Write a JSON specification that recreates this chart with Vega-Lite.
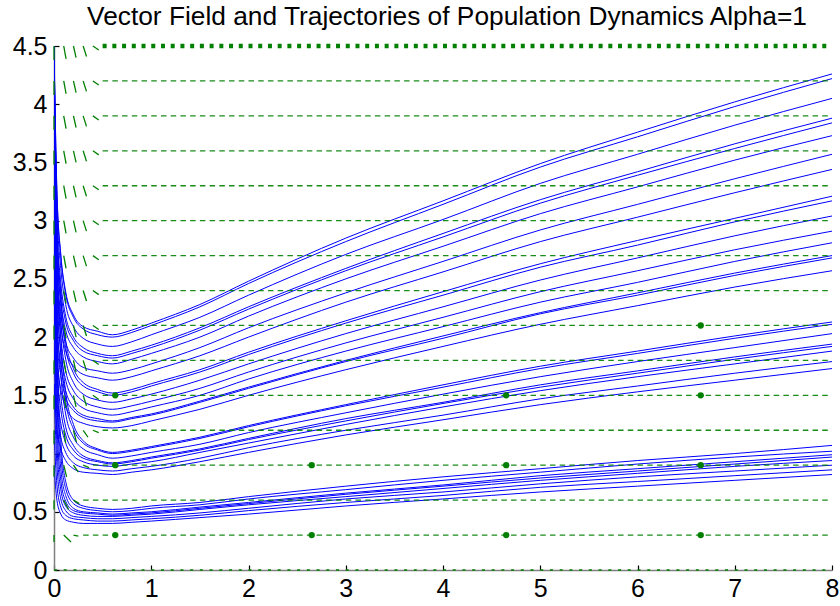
{
  "$schema": "https://vega.github.io/schema/vega-lite/v6.json",
  "width": 778,
  "height": 524,
  "autosize": "none",
  "padding": {"left": 54, "top": 46, "right": 8, "bottom": 36},
  "background": "white",
  "config": {"view": {"stroke": null}},
  "title": {"text": "Vector Field and Trajectories of Population Dynamics Alpha=1", "font": "Liberation Sans", "fontSize": 26.3, "fontWeight": "normal", "color": "black", "anchor": "middle", "baseline": "alphabetic", "offset": -17, "dx": 4},
  "datasets": {
    "traj": [
      {"k":"A1","x":0,"y":4.5},{"k":"A1","x":0.03,"y":3.26},{"k":"A1","x":0.07,"y":2.71},{"k":"A1","x":0.12,"y":2.39},{"k":"A1","x":0.2,"y":2.19},{"k":"A1","x":0.3,"y":2.09},{"k":"A1","x":0.45,"y":2.05},{"k":"A1","x":0.6,"y":2.02},{"k":"A1","x":0.8,"y":2.06},{"k":"A1","x":1,"y":2.12},{"k":"A1","x":1.5,"y":2.28},{"k":"A1","x":2,"y":2.48},{"k":"A1","x":3,"y":2.85},{"k":"A1","x":4,"y":3.17},{"k":"A1","x":5,"y":3.49},{"k":"A1","x":6,"y":3.76},{"k":"A1","x":7,"y":4.02},{"k":"A1","x":8,"y":4.26},
      {"k":"A2","x":0,"y":4.45},{"k":"A2","x":0.03,"y":3.23},{"k":"A2","x":0.07,"y":2.69},{"k":"A2","x":0.12,"y":2.37},{"k":"A2","x":0.2,"y":2.17},{"k":"A2","x":0.3,"y":2.07},{"k":"A2","x":0.45,"y":2.02},{"k":"A2","x":0.6,"y":2.0},{"k":"A2","x":0.8,"y":2.04},{"k":"A2","x":1,"y":2.1},{"k":"A2","x":1.5,"y":2.26},{"k":"A2","x":2,"y":2.46},{"k":"A2","x":3,"y":2.82},{"k":"A2","x":4,"y":3.14},{"k":"A2","x":5,"y":3.46},{"k":"A2","x":6,"y":3.72},{"k":"A2","x":7,"y":3.98},{"k":"A2","x":8,"y":4.22},
      {"k":"A3","x":0,"y":4.3},{"k":"A3","x":0.03,"y":3.11},{"k":"A3","x":0.07,"y":2.59},{"k":"A3","x":0.12,"y":2.28},{"k":"A3","x":0.2,"y":2.09},{"k":"A3","x":0.3,"y":1.99},{"k":"A3","x":0.45,"y":1.94},{"k":"A3","x":0.6,"y":1.92},{"k":"A3","x":0.8,"y":1.96},{"k":"A3","x":1,"y":2.02},{"k":"A3","x":1.5,"y":2.17},{"k":"A3","x":2,"y":2.36},{"k":"A3","x":3,"y":2.71},{"k":"A3","x":4,"y":3.01},{"k":"A3","x":5,"y":3.32},{"k":"A3","x":6,"y":3.57},{"k":"A3","x":7,"y":3.82},{"k":"A3","x":8,"y":4.05},
      {"k":"A4","x":0,"y":4.1},{"k":"A4","x":0.03,"y":2.97},{"k":"A4","x":0.07,"y":2.47},{"k":"A4","x":0.12,"y":2.18},{"k":"A4","x":0.2,"y":2.0},{"k":"A4","x":0.3,"y":1.91},{"k":"A4","x":0.45,"y":1.86},{"k":"A4","x":0.6,"y":1.84},{"k":"A4","x":0.8,"y":1.88},{"k":"A4","x":1,"y":1.93},{"k":"A4","x":1.5,"y":2.08},{"k":"A4","x":2,"y":2.26},{"k":"A4","x":3,"y":2.59},{"k":"A4","x":4,"y":2.89},{"k":"A4","x":5,"y":3.18},{"k":"A4","x":6,"y":3.42},{"k":"A4","x":7,"y":3.66},{"k":"A4","x":8,"y":3.88},
      {"k":"A5","x":0,"y":3.9},{"k":"A5","x":0.03,"y":2.86},{"k":"A5","x":0.07,"y":2.4},{"k":"A5","x":0.12,"y":2.13},{"k":"A5","x":0.2,"y":1.97},{"k":"A5","x":0.3,"y":1.88},{"k":"A5","x":0.45,"y":1.84},{"k":"A5","x":0.6,"y":1.82},{"k":"A5","x":0.8,"y":1.86},{"k":"A5","x":1,"y":1.91},{"k":"A5","x":1.5,"y":2.06},{"k":"A5","x":2,"y":2.24},{"k":"A5","x":3,"y":2.57},{"k":"A5","x":4,"y":2.86},{"k":"A5","x":5,"y":3.15},{"k":"A5","x":6,"y":3.39},{"k":"A5","x":7,"y":3.62},{"k":"A5","x":8,"y":3.84},
      {"k":"A6","x":0,"y":3.7},{"k":"A6","x":0.03,"y":2.74},{"k":"A6","x":0.07,"y":2.31},{"k":"A6","x":0.12,"y":2.06},{"k":"A6","x":0.2,"y":1.91},{"k":"A6","x":0.3,"y":1.83},{"k":"A6","x":0.45,"y":1.79},{"k":"A6","x":0.6,"y":1.77},{"k":"A6","x":0.8,"y":1.81},{"k":"A6","x":1,"y":1.86},{"k":"A6","x":1.5,"y":2.0},{"k":"A6","x":2,"y":2.18},{"k":"A6","x":3,"y":2.5},{"k":"A6","x":4,"y":2.78},{"k":"A6","x":5,"y":3.06},{"k":"A6","x":6,"y":3.29},{"k":"A6","x":7,"y":3.52},{"k":"A6","x":8,"y":3.73},
      {"k":"A7","x":0,"y":3.5},{"k":"A7","x":0.03,"y":2.6},{"k":"A7","x":0.07,"y":2.2},{"k":"A7","x":0.12,"y":1.96},{"k":"A7","x":0.2,"y":1.82},{"k":"A7","x":0.3,"y":1.74},{"k":"A7","x":0.45,"y":1.71},{"k":"A7","x":0.6,"y":1.69},{"k":"A7","x":0.8,"y":1.72},{"k":"A7","x":1,"y":1.77},{"k":"A7","x":1.5,"y":1.91},{"k":"A7","x":2,"y":2.08},{"k":"A7","x":3,"y":2.38},{"k":"A7","x":4,"y":2.65},{"k":"A7","x":5,"y":2.92},{"k":"A7","x":6,"y":3.14},{"k":"A7","x":7,"y":3.36},{"k":"A7","x":8,"y":3.57},
      {"k":"A8","x":0,"y":3.3},{"k":"A8","x":0.03,"y":2.47},{"k":"A8","x":0.07,"y":2.1},{"k":"A8","x":0.12,"y":1.88},{"k":"A8","x":0.2,"y":1.75},{"k":"A8","x":0.3,"y":1.68},{"k":"A8","x":0.45,"y":1.65},{"k":"A8","x":0.6,"y":1.63},{"k":"A8","x":0.8,"y":1.66},{"k":"A8","x":1,"y":1.71},{"k":"A8","x":1.5,"y":1.84},{"k":"A8","x":2,"y":2.0},{"k":"A8","x":3,"y":2.3},{"k":"A8","x":4,"y":2.56},{"k":"A8","x":5,"y":2.82},{"k":"A8","x":6,"y":3.03},{"k":"A8","x":7,"y":3.24},{"k":"A8","x":8,"y":3.44},
      {"k":"B1","x":0,"y":4.5},{"k":"B1","x":0.03,"y":3.01},{"k":"B1","x":0.07,"y":2.35},{"k":"B1","x":0.12,"y":1.97},{"k":"B1","x":0.2,"y":1.73},{"k":"B1","x":0.3,"y":1.61},{"k":"B1","x":0.45,"y":1.55},{"k":"B1","x":0.6,"y":1.52},{"k":"B1","x":0.8,"y":1.55},{"k":"B1","x":1,"y":1.6},{"k":"B1","x":1.5,"y":1.72},{"k":"B1","x":2,"y":1.87},{"k":"B1","x":3,"y":2.14},{"k":"B1","x":4,"y":2.39},{"k":"B1","x":5,"y":2.63},{"k":"B1","x":6,"y":2.83},{"k":"B1","x":7,"y":3.02},{"k":"B1","x":8,"y":3.21},
      {"k":"B2","x":0,"y":4.2},{"k":"B2","x":0.03,"y":2.85},{"k":"B2","x":0.07,"y":2.26},{"k":"B2","x":0.12,"y":1.91},{"k":"B2","x":0.2,"y":1.69},{"k":"B2","x":0.3,"y":1.58},{"k":"B2","x":0.45,"y":1.53},{"k":"B2","x":0.6,"y":1.5},{"k":"B2","x":0.8,"y":1.53},{"k":"B2","x":1,"y":1.58},{"k":"B2","x":1.5,"y":1.7},{"k":"B2","x":2,"y":1.85},{"k":"B2","x":3,"y":2.12},{"k":"B2","x":4,"y":2.36},{"k":"B2","x":5,"y":2.6},{"k":"B2","x":6,"y":2.79},{"k":"B2","x":7,"y":2.99},{"k":"B2","x":8,"y":3.17},
      {"k":"B3","x":0,"y":3.9},{"k":"B3","x":0.03,"y":2.67},{"k":"B3","x":0.07,"y":2.13},{"k":"B3","x":0.12,"y":1.81},{"k":"B3","x":0.2,"y":1.61},{"k":"B3","x":0.3,"y":1.51},{"k":"B3","x":0.45,"y":1.46},{"k":"B3","x":0.6,"y":1.44},{"k":"B3","x":0.8,"y":1.47},{"k":"B3","x":1,"y":1.51},{"k":"B3","x":1.5,"y":1.63},{"k":"B3","x":2,"y":1.77},{"k":"B3","x":3,"y":2.03},{"k":"B3","x":4,"y":2.26},{"k":"B3","x":5,"y":2.49},{"k":"B3","x":6,"y":2.68},{"k":"B3","x":7,"y":2.87},{"k":"B3","x":8,"y":3.04},
      {"k":"B4","x":0,"y":3.6},{"k":"B4","x":0.03,"y":2.49},{"k":"B4","x":0.07,"y":2.0},{"k":"B4","x":0.12,"y":1.71},{"k":"B4","x":0.2,"y":1.54},{"k":"B4","x":0.3,"y":1.45},{"k":"B4","x":0.45,"y":1.4},{"k":"B4","x":0.6,"y":1.38},{"k":"B4","x":0.8,"y":1.41},{"k":"B4","x":1,"y":1.45},{"k":"B4","x":1.5,"y":1.56},{"k":"B4","x":2,"y":1.7},{"k":"B4","x":3,"y":1.95},{"k":"B4","x":4,"y":2.17},{"k":"B4","x":5,"y":2.39},{"k":"B4","x":6,"y":2.57},{"k":"B4","x":7,"y":2.75},{"k":"B4","x":8,"y":2.91},
      {"k":"B5","x":0,"y":3.3},{"k":"B5","x":0.03,"y":2.32},{"k":"B5","x":0.07,"y":1.88},{"k":"B5","x":0.12,"y":1.63},{"k":"B5","x":0.2,"y":1.47},{"k":"B5","x":0.3,"y":1.39},{"k":"B5","x":0.45,"y":1.35},{"k":"B5","x":0.6,"y":1.33},{"k":"B5","x":0.8,"y":1.36},{"k":"B5","x":1,"y":1.4},{"k":"B5","x":1.5,"y":1.5},{"k":"B5","x":2,"y":1.64},{"k":"B5","x":3,"y":1.88},{"k":"B5","x":4,"y":2.09},{"k":"B5","x":5,"y":2.3},{"k":"B5","x":6,"y":2.47},{"k":"B5","x":7,"y":2.65},{"k":"B5","x":8,"y":2.81},
      {"k":"B6","x":0,"y":3.0},{"k":"B6","x":0.03,"y":2.14},{"k":"B6","x":0.07,"y":1.76},{"k":"B6","x":0.12,"y":1.54},{"k":"B6","x":0.2,"y":1.4},{"k":"B6","x":0.3,"y":1.33},{"k":"B6","x":0.45,"y":1.3},{"k":"B6","x":0.6,"y":1.28},{"k":"B6","x":0.8,"y":1.31},{"k":"B6","x":1,"y":1.34},{"k":"B6","x":1.5,"y":1.45},{"k":"B6","x":2,"y":1.57},{"k":"B6","x":3,"y":1.8},{"k":"B6","x":4,"y":2.01},{"k":"B6","x":5,"y":2.21},{"k":"B6","x":6,"y":2.38},{"k":"B6","x":7,"y":2.55},{"k":"B6","x":8,"y":2.7},
      {"k":"B7","x":0,"y":2.7},{"k":"B7","x":0.03,"y":1.99},{"k":"B7","x":0.07,"y":1.67},{"k":"B7","x":0.12,"y":1.48},{"k":"B7","x":0.2,"y":1.37},{"k":"B7","x":0.3,"y":1.31},{"k":"B7","x":0.45,"y":1.28},{"k":"B7","x":0.6,"y":1.27},{"k":"B7","x":0.8,"y":1.3},{"k":"B7","x":1,"y":1.33},{"k":"B7","x":1.5,"y":1.44},{"k":"B7","x":2,"y":1.56},{"k":"B7","x":3,"y":1.79},{"k":"B7","x":4,"y":1.99},{"k":"B7","x":5,"y":2.2},{"k":"B7","x":6,"y":2.36},{"k":"B7","x":7,"y":2.53},{"k":"B7","x":8,"y":2.68},
      {"k":"B8","x":0,"y":2.4},{"k":"B8","x":0.03,"y":1.81},{"k":"B8","x":0.07,"y":1.55},{"k":"B8","x":0.12,"y":1.4},{"k":"B8","x":0.2,"y":1.3},{"k":"B8","x":0.3,"y":1.26},{"k":"B8","x":0.45,"y":1.23},{"k":"B8","x":0.6,"y":1.22},{"k":"B8","x":0.8,"y":1.24},{"k":"B8","x":1,"y":1.28},{"k":"B8","x":1.5,"y":1.38},{"k":"B8","x":2,"y":1.5},{"k":"B8","x":3,"y":1.72},{"k":"B8","x":4,"y":1.92},{"k":"B8","x":5,"y":2.11},{"k":"B8","x":6,"y":2.27},{"k":"B8","x":7,"y":2.43},{"k":"B8","x":8,"y":2.57},
      {"k":"C1","x":0,"y":4.5},{"k":"C1","x":0.03,"y":2.76},{"k":"C1","x":0.07,"y":1.99},{"k":"C1","x":0.12,"y":1.53},{"k":"C1","x":0.2,"y":1.25},{"k":"C1","x":0.3,"y":1.11},{"k":"C1","x":0.45,"y":1.04},{"k":"C1","x":0.6,"y":1.01},{"k":"C1","x":0.8,"y":1.03},{"k":"C1","x":1,"y":1.06},{"k":"C1","x":1.5,"y":1.14},{"k":"C1","x":2,"y":1.24},{"k":"C1","x":3,"y":1.42},{"k":"C1","x":4,"y":1.59},{"k":"C1","x":5,"y":1.75},{"k":"C1","x":6,"y":1.88},{"k":"C1","x":7,"y":2.01},{"k":"C1","x":8,"y":2.13},
      {"k":"C2","x":0,"y":4.0},{"k":"C2","x":0.03,"y":2.5},{"k":"C2","x":0.07,"y":1.84},{"k":"C2","x":0.12,"y":1.45},{"k":"C2","x":0.2,"y":1.21},{"k":"C2","x":0.3,"y":1.09},{"k":"C2","x":0.45,"y":1.03},{"k":"C2","x":0.6,"y":1.0},{"k":"C2","x":0.8,"y":1.02},{"k":"C2","x":1,"y":1.05},{"k":"C2","x":1.5,"y":1.13},{"k":"C2","x":2,"y":1.23},{"k":"C2","x":3,"y":1.41},{"k":"C2","x":4,"y":1.57},{"k":"C2","x":5,"y":1.73},{"k":"C2","x":6,"y":1.86},{"k":"C2","x":7,"y":1.99},{"k":"C2","x":8,"y":2.11},
      {"k":"C3","x":0,"y":3.5},{"k":"C3","x":0.03,"y":2.23},{"k":"C3","x":0.07,"y":1.67},{"k":"C3","x":0.12,"y":1.34},{"k":"C3","x":0.2,"y":1.14},{"k":"C3","x":0.3,"y":1.04},{"k":"C3","x":0.45,"y":0.99},{"k":"C3","x":0.6,"y":0.96},{"k":"C3","x":0.8,"y":0.98},{"k":"C3","x":1,"y":1.01},{"k":"C3","x":1.5,"y":1.08},{"k":"C3","x":2,"y":1.18},{"k":"C3","x":3,"y":1.35},{"k":"C3","x":4,"y":1.51},{"k":"C3","x":5,"y":1.66},{"k":"C3","x":6,"y":1.79},{"k":"C3","x":7,"y":1.91},{"k":"C3","x":8,"y":2.03},
      {"k":"C4","x":0,"y":3.0},{"k":"C4","x":0.03,"y":1.96},{"k":"C4","x":0.07,"y":1.5},{"k":"C4","x":0.12,"y":1.23},{"k":"C4","x":0.2,"y":1.07},{"k":"C4","x":0.3,"y":0.98},{"k":"C4","x":0.45,"y":0.94},{"k":"C4","x":0.6,"y":0.92},{"k":"C4","x":0.8,"y":0.94},{"k":"C4","x":1,"y":0.97},{"k":"C4","x":1.5,"y":1.04},{"k":"C4","x":2,"y":1.13},{"k":"C4","x":3,"y":1.3},{"k":"C4","x":4,"y":1.44},{"k":"C4","x":5,"y":1.59},{"k":"C4","x":6,"y":1.71},{"k":"C4","x":7,"y":1.83},{"k":"C4","x":8,"y":1.94},
      {"k":"C5","x":0,"y":2.6},{"k":"C5","x":0.03,"y":1.76},{"k":"C5","x":0.07,"y":1.38},{"k":"C5","x":0.12,"y":1.16},{"k":"C5","x":0.2,"y":1.03},{"k":"C5","x":0.3,"y":0.96},{"k":"C5","x":0.45,"y":0.93},{"k":"C5","x":0.6,"y":0.91},{"k":"C5","x":0.8,"y":0.93},{"k":"C5","x":1,"y":0.96},{"k":"C5","x":1.5,"y":1.03},{"k":"C5","x":2,"y":1.12},{"k":"C5","x":3,"y":1.28},{"k":"C5","x":4,"y":1.43},{"k":"C5","x":5,"y":1.57},{"k":"C5","x":6,"y":1.69},{"k":"C5","x":7,"y":1.81},{"k":"C5","x":8,"y":1.92},
      {"k":"C6","x":0,"y":2.2},{"k":"C6","x":0.03,"y":1.55},{"k":"C6","x":0.07,"y":1.26},{"k":"C6","x":0.12,"y":1.09},{"k":"C6","x":0.2,"y":0.98},{"k":"C6","x":0.3,"y":0.93},{"k":"C6","x":0.45,"y":0.9},{"k":"C6","x":0.6,"y":0.89},{"k":"C6","x":0.8,"y":0.91},{"k":"C6","x":1,"y":0.93},{"k":"C6","x":1.5,"y":1.01},{"k":"C6","x":2,"y":1.09},{"k":"C6","x":3,"y":1.25},{"k":"C6","x":4,"y":1.4},{"k":"C6","x":5,"y":1.54},{"k":"C6","x":6,"y":1.66},{"k":"C6","x":7,"y":1.77},{"k":"C6","x":8,"y":1.88},
      {"k":"C7","x":0,"y":1.9},{"k":"C7","x":0.03,"y":1.38},{"k":"C7","x":0.07,"y":1.14},{"k":"C7","x":0.12,"y":1.01},{"k":"C7","x":0.2,"y":0.92},{"k":"C7","x":0.3,"y":0.88},{"k":"C7","x":0.45,"y":0.86},{"k":"C7","x":0.6,"y":0.85},{"k":"C7","x":0.8,"y":0.87},{"k":"C7","x":1,"y":0.89},{"k":"C7","x":1.5,"y":0.96},{"k":"C7","x":2,"y":1.05},{"k":"C7","x":3,"y":1.2},{"k":"C7","x":4,"y":1.33},{"k":"C7","x":5,"y":1.47},{"k":"C7","x":6,"y":1.58},{"k":"C7","x":7,"y":1.69},{"k":"C7","x":8,"y":1.79},
      {"k":"C8","x":0,"y":1.6},{"k":"C8","x":0.03,"y":1.21},{"k":"C8","x":0.07,"y":1.04},{"k":"C8","x":0.12,"y":0.94},{"k":"C8","x":0.2,"y":0.87},{"k":"C8","x":0.3,"y":0.84},{"k":"C8","x":0.45,"y":0.83},{"k":"C8","x":0.6,"y":0.82},{"k":"C8","x":0.8,"y":0.84},{"k":"C8","x":1,"y":0.86},{"k":"C8","x":1.5,"y":0.93},{"k":"C8","x":2,"y":1.01},{"k":"C8","x":3,"y":1.16},{"k":"C8","x":4,"y":1.29},{"k":"C8","x":5,"y":1.42},{"k":"C8","x":6,"y":1.53},{"k":"C8","x":7,"y":1.63},{"k":"C8","x":8,"y":1.73},
      {"k":"D1","x":0,"y":4.5},{"k":"D1","x":0.03,"y":2.11},{"k":"D1","x":0.07,"y":1.12},{"k":"D1","x":0.12,"y":0.76},{"k":"D1","x":0.2,"y":0.6},{"k":"D1","x":0.3,"y":0.55},{"k":"D1","x":0.45,"y":0.53},{"k":"D1","x":0.6,"y":0.52},{"k":"D1","x":0.8,"y":0.53},{"k":"D1","x":1,"y":0.55},{"k":"D1","x":1.5,"y":0.58},{"k":"D1","x":2,"y":0.63},{"k":"D1","x":3,"y":0.72},{"k":"D1","x":4,"y":0.8},{"k":"D1","x":5,"y":0.87},{"k":"D1","x":6,"y":0.94},{"k":"D1","x":7,"y":1.0},{"k":"D1","x":8,"y":1.07},
      {"k":"D2","x":0,"y":3.8},{"k":"D2","x":0.03,"y":1.82},{"k":"D2","x":0.07,"y":1.0},{"k":"D2","x":0.12,"y":0.7},{"k":"D2","x":0.2,"y":0.57},{"k":"D2","x":0.3,"y":0.53},{"k":"D2","x":0.45,"y":0.51},{"k":"D2","x":0.6,"y":0.5},{"k":"D2","x":0.8,"y":0.51},{"k":"D2","x":1,"y":0.53},{"k":"D2","x":1.5,"y":0.56},{"k":"D2","x":2,"y":0.61},{"k":"D2","x":3,"y":0.69},{"k":"D2","x":4,"y":0.77},{"k":"D2","x":5,"y":0.84},{"k":"D2","x":6,"y":0.91},{"k":"D2","x":7,"y":0.97},{"k":"D2","x":8,"y":1.02},
      {"k":"D3","x":0,"y":3.1},{"k":"D3","x":0.03,"y":1.53},{"k":"D3","x":0.07,"y":0.87},{"k":"D3","x":0.12,"y":0.64},{"k":"D3","x":0.2,"y":0.53},{"k":"D3","x":0.3,"y":0.5},{"k":"D3","x":0.45,"y":0.49},{"k":"D3","x":0.6,"y":0.48},{"k":"D3","x":0.8,"y":0.49},{"k":"D3","x":1,"y":0.5},{"k":"D3","x":1.5,"y":0.54},{"k":"D3","x":2,"y":0.58},{"k":"D3","x":3,"y":0.66},{"k":"D3","x":4,"y":0.73},{"k":"D3","x":5,"y":0.81},{"k":"D3","x":6,"y":0.87},{"k":"D3","x":7,"y":0.93},{"k":"D3","x":8,"y":0.99},
      {"k":"D4","x":0,"y":2.5},{"k":"D4","x":0.03,"y":1.28},{"k":"D4","x":0.07,"y":0.77},{"k":"D4","x":0.12,"y":0.59},{"k":"D4","x":0.2,"y":0.51},{"k":"D4","x":0.3,"y":0.49},{"k":"D4","x":0.45,"y":0.48},{"k":"D4","x":0.6,"y":0.47},{"k":"D4","x":0.8,"y":0.48},{"k":"D4","x":1,"y":0.49},{"k":"D4","x":1.5,"y":0.53},{"k":"D4","x":2,"y":0.57},{"k":"D4","x":3,"y":0.65},{"k":"D4","x":4,"y":0.72},{"k":"D4","x":5,"y":0.79},{"k":"D4","x":6,"y":0.85},{"k":"D4","x":7,"y":0.91},{"k":"D4","x":8,"y":0.97},
      {"k":"D5","x":0,"y":2.0},{"k":"D5","x":0.03,"y":1.08},{"k":"D5","x":0.07,"y":0.69},{"k":"D5","x":0.12,"y":0.55},{"k":"D5","x":0.2,"y":0.49},{"k":"D5","x":0.3,"y":0.47},{"k":"D5","x":0.45,"y":0.46},{"k":"D5","x":0.6,"y":0.46},{"k":"D5","x":0.8,"y":0.47},{"k":"D5","x":1,"y":0.48},{"k":"D5","x":1.5,"y":0.52},{"k":"D5","x":2,"y":0.56},{"k":"D5","x":3,"y":0.63},{"k":"D5","x":4,"y":0.7},{"k":"D5","x":5,"y":0.77},{"k":"D5","x":6,"y":0.83},{"k":"D5","x":7,"y":0.89},{"k":"D5","x":8,"y":0.94},
      {"k":"D6","x":0,"y":1.6},{"k":"D6","x":0.03,"y":0.9},{"k":"D6","x":0.07,"y":0.61},{"k":"D6","x":0.12,"y":0.51},{"k":"D6","x":0.2,"y":0.46},{"k":"D6","x":0.3,"y":0.45},{"k":"D6","x":0.45,"y":0.44},{"k":"D6","x":0.6,"y":0.44},{"k":"D6","x":0.8,"y":0.45},{"k":"D6","x":1,"y":0.46},{"k":"D6","x":1.5,"y":0.49},{"k":"D6","x":2,"y":0.53},{"k":"D6","x":3,"y":0.61},{"k":"D6","x":4,"y":0.67},{"k":"D6","x":5,"y":0.74},{"k":"D6","x":6,"y":0.8},{"k":"D6","x":7,"y":0.85},{"k":"D6","x":8,"y":0.9},
      {"k":"D7","x":0,"y":1.2},{"k":"D7","x":0.03,"y":0.73},{"k":"D7","x":0.07,"y":0.54},{"k":"D7","x":0.12,"y":0.47},{"k":"D7","x":0.2,"y":0.44},{"k":"D7","x":0.3,"y":0.43},{"k":"D7","x":0.45,"y":0.42},{"k":"D7","x":0.6,"y":0.42},{"k":"D7","x":0.8,"y":0.43},{"k":"D7","x":1,"y":0.44},{"k":"D7","x":1.5,"y":0.47},{"k":"D7","x":2,"y":0.51},{"k":"D7","x":3,"y":0.58},{"k":"D7","x":4,"y":0.64},{"k":"D7","x":5,"y":0.71},{"k":"D7","x":6,"y":0.76},{"k":"D7","x":7,"y":0.81},{"k":"D7","x":8,"y":0.86},
      {"k":"D8","x":0,"y":0.9},{"k":"D8","x":0.03,"y":0.6},{"k":"D8","x":0.07,"y":0.48},{"k":"D8","x":0.12,"y":0.43},{"k":"D8","x":0.2,"y":0.41},{"k":"D8","x":0.3,"y":0.4},{"k":"D8","x":0.45,"y":0.4},{"k":"D8","x":0.6,"y":0.4},{"k":"D8","x":0.8,"y":0.41},{"k":"D8","x":1,"y":0.42},{"k":"D8","x":1.5,"y":0.45},{"k":"D8","x":2,"y":0.48},{"k":"D8","x":3,"y":0.55},{"k":"D8","x":4,"y":0.61},{"k":"D8","x":5,"y":0.67},{"k":"D8","x":6,"y":0.72},{"k":"D8","x":7,"y":0.77},{"k":"D8","x":8,"y":0.82}
    ],
    "rows": [
      {"y":0,"x":0,"x2":8},
      {"y":0.3,"x":0.3,"x2":8},{"y":0.6,"x":0.3,"x2":8},{"y":0.9,"x":0.4,"x2":8},{"y":1.2,"x":0.5,"x2":8},
      {"y":1.5,"x":0.5,"x2":8},{"y":1.8,"x":0.5,"x2":8},{"y":2.1,"x":0.5,"x2":8},{"y":2.4,"x":0.5,"x2":8},
      {"y":2.7,"x":0.5,"x2":8},{"y":3.0,"x":0.5,"x2":8},{"y":3.3,"x":0.5,"x2":8},{"y":3.6,"x":0.5,"x2":8},
      {"y":3.9,"x":0.5,"x2":8},{"y":4.2,"x":0.5,"x2":8},{"y":4.5,"x":0.5,"x2":8}
    ],
    "arrows": [
      {"x":0,"y":0.3,"x2":0,"y2":0.24},{"x":0.1,"y":0.3,"x2":0.175,"y2":0.24},{"x":0.2,"y":0.3,"x2":0.25,"y2":0.29},
      {"x":0,"y":0.6,"x2":0,"y2":0.52},{"x":0.1,"y":0.6,"x2":0.15,"y2":0.52},{"x":0.2,"y":0.6,"x2":0.26,"y2":0.57},
      {"x":0,"y":0.9,"x2":0,"y2":0.8},{"x":0.1,"y":0.9,"x2":0.13,"y2":0.8},{"x":0.2,"y":0.9,"x2":0.25,"y2":0.84},{"x":0.3,"y":0.9,"x2":0.36,"y2":0.88},
      {"x":0,"y":1.2,"x2":0,"y2":1.08},{"x":0.1,"y":1.2,"x2":0.12,"y2":1.09},{"x":0.2,"y":1.2,"x2":0.23,"y2":1.1},{"x":0.3,"y":1.2,"x2":0.35,"y2":1.14},{"x":0.4,"y":1.2,"x2":0.46,"y2":1.18},
      {"x":0,"y":1.5,"x2":0,"y2":1.38},{"x":0.1,"y":1.5,"x2":0.124,"y2":1.39},{"x":0.2,"y":1.5,"x2":0.227,"y2":1.4},{"x":0.3,"y":1.5,"x2":0.334,"y2":1.41},{"x":0.4,"y":1.5,"x2":0.46,"y2":1.465},
      {"x":0,"y":1.8,"x2":0,"y2":1.68},{"x":0.1,"y":1.8,"x2":0.124,"y2":1.69},{"x":0.2,"y":1.8,"x2":0.227,"y2":1.7},{"x":0.3,"y":1.8,"x2":0.334,"y2":1.71},{"x":0.4,"y":1.8,"x2":0.46,"y2":1.765},
      {"x":0,"y":2.1,"x2":0,"y2":1.98},{"x":0.1,"y":2.1,"x2":0.124,"y2":1.99},{"x":0.2,"y":2.1,"x2":0.227,"y2":2.0},{"x":0.3,"y":2.1,"x2":0.334,"y2":2.01},{"x":0.4,"y":2.1,"x2":0.46,"y2":2.065},
      {"x":0,"y":2.4,"x2":0,"y2":2.28},{"x":0.1,"y":2.4,"x2":0.124,"y2":2.29},{"x":0.2,"y":2.4,"x2":0.227,"y2":2.3},{"x":0.3,"y":2.4,"x2":0.334,"y2":2.31},{"x":0.4,"y":2.4,"x2":0.46,"y2":2.365},
      {"x":0,"y":2.7,"x2":0,"y2":2.58},{"x":0.1,"y":2.7,"x2":0.124,"y2":2.59},{"x":0.2,"y":2.7,"x2":0.227,"y2":2.6},{"x":0.3,"y":2.7,"x2":0.334,"y2":2.61},{"x":0.4,"y":2.7,"x2":0.46,"y2":2.665},
      {"x":0,"y":3.0,"x2":0,"y2":2.88},{"x":0.1,"y":3.0,"x2":0.124,"y2":2.89},{"x":0.2,"y":3.0,"x2":0.227,"y2":2.9},{"x":0.3,"y":3.0,"x2":0.334,"y2":2.91},{"x":0.4,"y":3.0,"x2":0.46,"y2":2.965},
      {"x":0,"y":3.3,"x2":0,"y2":3.18},{"x":0.1,"y":3.3,"x2":0.124,"y2":3.19},{"x":0.2,"y":3.3,"x2":0.227,"y2":3.2},{"x":0.3,"y":3.3,"x2":0.334,"y2":3.21},{"x":0.4,"y":3.3,"x2":0.46,"y2":3.265},
      {"x":0,"y":3.6,"x2":0,"y2":3.48},{"x":0.1,"y":3.6,"x2":0.124,"y2":3.49},{"x":0.2,"y":3.6,"x2":0.227,"y2":3.5},{"x":0.3,"y":3.6,"x2":0.334,"y2":3.51},{"x":0.4,"y":3.6,"x2":0.46,"y2":3.565},
      {"x":0,"y":3.9,"x2":0,"y2":3.78},{"x":0.1,"y":3.9,"x2":0.124,"y2":3.79},{"x":0.2,"y":3.9,"x2":0.227,"y2":3.8},{"x":0.3,"y":3.9,"x2":0.334,"y2":3.81},{"x":0.4,"y":3.9,"x2":0.46,"y2":3.865},
      {"x":0,"y":4.2,"x2":0,"y2":4.08},{"x":0.1,"y":4.2,"x2":0.124,"y2":4.09},{"x":0.2,"y":4.2,"x2":0.227,"y2":4.1},{"x":0.3,"y":4.2,"x2":0.334,"y2":4.11},{"x":0.4,"y":4.2,"x2":0.46,"y2":4.165},
      {"x":0,"y":4.5,"x2":0,"y2":4.38},{"x":0.1,"y":4.5,"x2":0.124,"y2":4.39},{"x":0.2,"y":4.5,"x2":0.227,"y2":4.4},{"x":0.3,"y":4.5,"x2":0.334,"y2":4.41},{"x":0.4,"y":4.5,"x2":0.46,"y2":4.465}
    ],
    "dots": [
      {"x":0.63,"y":1.5},{"x":0.63,"y":0.9},{"x":0.63,"y":0.3},
      {"x":2.65,"y":0.9},{"x":2.65,"y":0.3},
      {"x":4.65,"y":1.5},{"x":4.65,"y":0.9},{"x":4.65,"y":0.3},
      {"x":6.65,"y":2.1},{"x":6.65,"y":1.5},{"x":6.65,"y":0.9},{"x":6.65,"y":0.3}
    ]
  },
  "encoding": {
    "x": {"field": "x", "type": "quantitative", "title": null,
      "scale": {"domain": [0, 8], "nice": false, "zero": false},
      "axis": {"values": [0,1,2,3,4,5,6,7,8], "format": "~g", "grid": false, "labelFont": "Liberation Sans", "labelFontSize": 25, "labelColor": "black", "tickSize": -5, "tickColor": "black", "tickWidth": 1.2, "domainColor": "#808080", "domainWidth": 1.5, "labelPadding": 11, "labelFlush": false, "labelOverlap": false}},
    "y": {"field": "y", "type": "quantitative", "title": null,
      "scale": {"domain": [0, 4.5], "nice": false, "zero": false},
      "axis": {"values": [0,0.5,1,1.5,2,2.5,3,3.5,4,4.5], "format": "~g", "grid": false, "labelFont": "Liberation Sans", "labelFontSize": 25, "labelColor": "black", "tickSize": -5, "tickColor": "black", "tickWidth": 1.2, "domainColor": "#808080", "domainWidth": 1.5, "labelPadding": 12, "labelFlush": false, "labelOverlap": false}}
  },
  "layer": [
    {"data": {"name": "traj"}, "mark": {"type": "line", "color": "#0000ff", "strokeWidth": 1, "clip": true, "interpolate": "monotone"},
      "encoding": {"detail": {"field": "k", "type": "nominal"}}},
    {"data": {"name": "rows"}, "transform": [{"filter": "datum.y > 0 && datum.y < 4.5"}],
      "mark": {"type": "rule", "color": "#008000", "strokeWidth": 1.3, "strokeDash": [5.5, 4.225], "opacity": 0.9},
      "encoding": {"x2": {"field": "x2"}}},
    {"data": {"name": "rows"}, "transform": [{"filter": "datum.y >= 4.5"}],
      "mark": {"type": "rule", "color": "#008000", "strokeWidth": 4.5, "strokeDash": [4, 5.725]},
      "encoding": {"x2": {"field": "x2"}}},
    {"data": {"name": "rows"}, "transform": [{"filter": "datum.y <= 0"}],
      "mark": {"type": "rule", "color": "#008000", "strokeWidth": 1.5, "strokeDash": [3, 6.725]},
      "encoding": {"x2": {"field": "x2"}}},
    {"data": {"name": "arrows"}, "mark": {"type": "rule", "color": "#008000", "strokeWidth": 1.3},
      "encoding": {"x2": {"field": "x2"}, "y2": {"field": "y2"}}},
    {"data": {"name": "dots"}, "mark": {"type": "point", "filled": true, "color": "#008000", "size": 40, "opacity": 1}}
  ]
}
